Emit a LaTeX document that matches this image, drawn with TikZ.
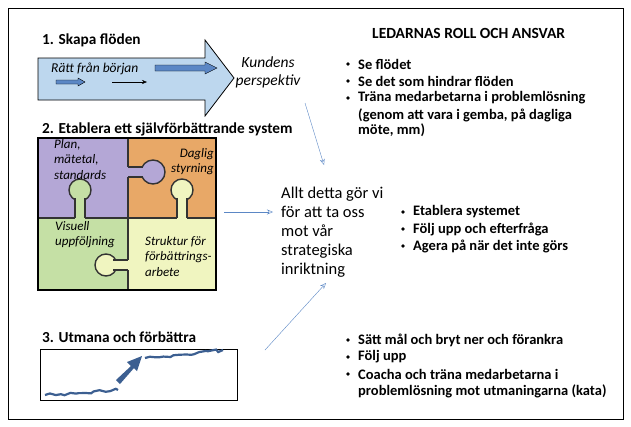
\documentclass[tikz,border=0pt]{standalone}
\usepackage{fontspec}
\setmainfont{Carlito}
\usetikzlibrary{arrows.meta,decorations.pathmorphing}
\definecolor{ablue}{HTML}{BDD7EE}
\definecolor{dblue}{HTML}{3C5F91}
\definecolor{lblue}{HTML}{5B87C5}
\definecolor{ppl}{HTML}{B4A7D6}
\definecolor{org}{HTML}{E8A867}
\definecolor{grn}{HTML}{C5E0A5}
\definecolor{yel}{HTML}{F0F5C0}
\tikzset{
 head/.style={font=\fontsize{15.3}{18}\selectfont\bfseries, anchor=west, inner sep=0},
 bul/.style={font=\fontsize{14.5}{16}\selectfont\bfseries, anchor=west, inner sep=0, align=left},
 pz/.style={font=\fontsize{13}{15.5}\selectfont\itshape, inner sep=0, align=left},
 conn/.style={draw=lblue, -{Stealth[length=6pt,width=5pt,open]}, thin},
 wave/.style={draw=dblue, line width=2.2pt, decorate, decoration={random steps,segment length=5pt,amplitude=1.6pt}},
 pline/.style={line width=1.4pt, draw=black!80},
}
\begin{document}
\begin{tikzpicture}[x=1pt,y=-1pt]
\useasboundingbox (0,0) rectangle (631,426);
\draw[black] (8,8) rectangle (623,419);
% section 1
\node[head] (h1) at (42,40) {1. Skapa flöden};
\draw[fill=ablue, draw=black, line width=0.8pt] (38,58) -- (205,58) -- (205,40) -- (234,78) -- (205,116) -- (205,100) -- (38,100) -- cycle;
\node[pz, anchor=west, font=\fontsize{13.5}{15}\selectfont\itshape] (r) at (51,69) {Rätt från början};
\draw[fill=lblue, draw=black, line width=0.4pt] (155,65) -- (205,65) -- (205,62) -- (217,68) -- (205,74) -- (205,71) -- (155,71) -- cycle;
\draw[fill=lblue, draw=black, line width=0.4pt] (56,80) -- (78,80) -- (78,78) -- (85,82) -- (78,86) -- (78,84) -- (56,84) -- cycle;
\draw[draw=black, line width=0.4pt, -{Stealth[length=5pt,width=4pt]}] (112,82) -- (147,82);
\node[pz, align=center, font=\fontsize{15.5}{18}\selectfont\itshape] (k) at (268,72) {Kundens\\perspektiv};
% section 2
\node[head] (h2) at (42,129) {2. Etablera ett självförbättrande system};
\fill[ppl] (38,138) rectangle (128,218);
\fill[org] (128,138) rectangle (216,218);
\fill[grn] (38,218) rectangle (128,290);
\fill[yel] (128,218) rectangle (216,290);
\draw[pline] (128,138) -- (128,290) (38,218) -- (216,218);
% knobs
\draw[pline, fill=ppl] (153,172) circle (12);
\fill[ppl] (126,167) rectangle (143,177);
\draw[pline] (128,167) -- (143,167) (128,177) -- (143,177);
\draw[pline, fill=grn] (80,190) circle (11);
\fill[grn] (75,197) rectangle (85,220);
\draw[pline] (75,198) -- (75,218) (85,198) -- (85,218);
\draw[pline, fill=yel] (182,190) circle (11);
\fill[yel] (177,197) rectangle (187,220);
\draw[pline] (177,198) -- (177,218) (187,198) -- (187,218);
\draw[pline, fill=yel] (106,265) circle (11);
\fill[yel] (113,260) rectangle (130,270);
\draw[pline] (113,260) -- (128,260) (113,270) -- (128,270);
\draw[line width=1.6pt, black] (38,138) rectangle (216,290);
\node[pz, anchor=north west] (p1) at (54,139) {Plan,\\mätetal,\\standards};
\node[pz, anchor=north east, align=right] (p2) at (214,148) {Daglig\\styrning};
\node[pz, anchor=north west] (p3) at (55,221) {Visuell\\uppföljning};
\node[pz, anchor=north west] (p4) at (145,236) {Struktur för\\förbättrings-\\arbete};
\node[anchor=north west, inner sep=0, align=left, font=\fontsize{16.5}{19}\selectfont] (c) at (281,187) {Allt detta gör vi\\för att ta oss\\mot vår\\strategiska\\inriktning};
% section 3
\node[head] (h3) at (42,337) {3. Utmana och förbättra};
\draw[black] (40,349) rectangle (237,400);
\draw[wave] (45,395) -- (118,390);
\draw[wave] (145,358) -- (223,350);
\fill[dblue] (116,380) -- (131,366) -- (127,362) -- (142,356) -- (137,371) -- (134,368) -- (120,384) -- cycle;
% connectors
\coordinate (a1) at (305,103);
\coordinate (a2) at (324,165);
\coordinate (b1) at (224,212);
\coordinate (b2) at (273,212);
\coordinate (d1) at (265,350);
\coordinate (d2) at (326,283);
\draw[conn] (a1) -- (a2);
\draw[conn] (b1) -- (b2);
\draw[conn] (d1) -- (d2);
% right
\node[head, font=\fontsize{15.5}{18}\selectfont\bfseries] (t) at (372,33) {LEDARNAS ROLL OCH ANSVAR};
\foreach \y/\t [count=\i] in {64/Se flödet, 81/Se det som hindrar flöden, 98/Träna medarbetarna i problemlösning}{
 \node[bul] (l\i) at (358,\y) {\t}; \fill (348,\y) circle (1.8);}
\node[bul] (l4) at (358,115) {(genom att vara i gemba, på dagliga};
\node[bul] (l5) at (358,130) {möte, mm)};
\foreach \y/\t [count=\i] in {212/Etablera systemet, 229/Följ upp och efterfråga, 246/Agera på när det inte görs}{
 \node[bul] (m\i) at (413,\y) {\t}; \fill (403,\y) circle (1.8);}
\foreach \y/\t [count=\i] in {340/Sätt mål och bryt ner och förankra, 357/Följ upp, 374/Coacha och träna medarbetarna i}{
 \node[bul] (n\i) at (358,\y) {\t}; \fill (348,\y) circle (1.8);}
\node[bul] (n4) at (358,391) {problemlösning mot utmaningarna (kata)};
\end{tikzpicture}
\end{document}
